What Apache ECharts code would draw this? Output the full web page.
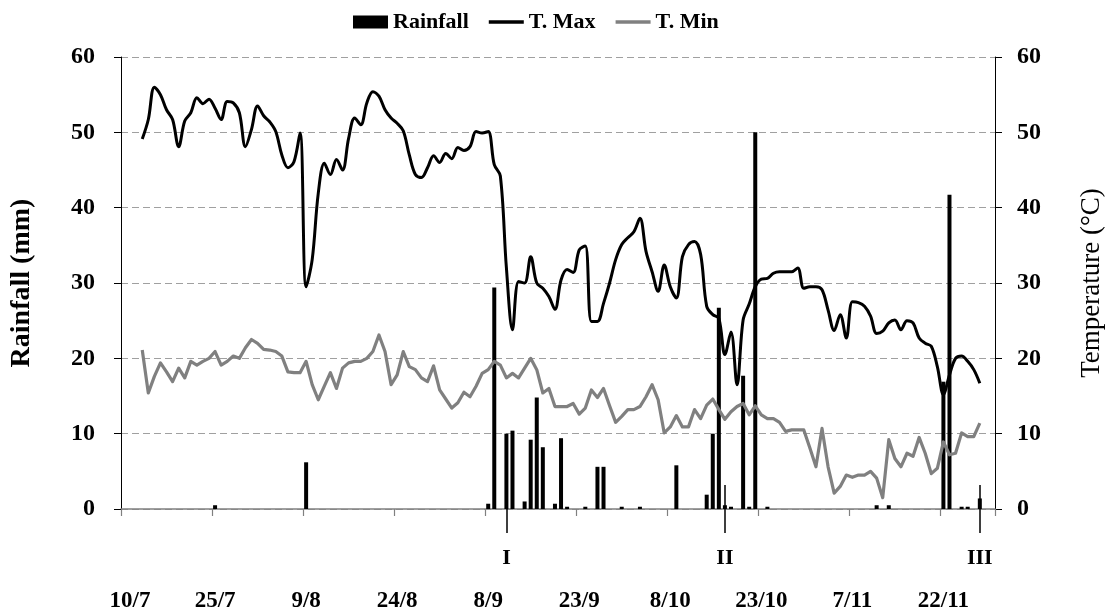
<!DOCTYPE html>
<html>
<head>
<meta charset="utf-8">
<script src="https://cdn.jsdelivr.net/npm/echarts@6.0.0/dist/echarts.min.js"></script>
<style>
html,body{margin:0;padding:0;background:#fff;}
#chart{width:1113px;height:614px;}
</style>
</head>
<body>
<div id="chart"></div>
<script>
// Day index 0 = 10/7. Temperature series start on day 3.
const firstDay = 3;

// Daily maximum temperature (°C), days 3..141
const tMax = [
  49.1, 51.7, 56.0, 55.0, 53.0, 51.7, 48.1, 51.5, 52.6, 54.6,
  53.8, 54.4, 53.2, 51.7, 54.1, 53.9, 52.6, 48.1, 50.4, 53.5,
  52.2, 51.4, 50.1, 47.0, 45.3, 46.1, 49.9, 29.5, 33.1, 41.9,
  45.9, 44.4, 46.4, 45.0, 49.2, 51.9, 51.0, 53.9, 55.4, 54.8,
  53.0, 51.9, 51.2, 50.2, 47.0, 44.4, 44.0, 45.3, 46.9, 46.0,
  47.2, 46.5, 48.0, 47.6, 48.1, 50.1, 49.9, 50.1, 45.7, 44.2,
  32.0, 23.8, 30.2, 30.0, 33.5, 30.0, 29.3, 28.2, 26.5, 30.4,
  31.8, 31.4, 34.4, 34.9, 24.9, 24.9, 27.3, 30.0, 33.1, 35.1,
  36.0, 36.8, 38.6, 34.2, 31.5, 28.9, 32.4, 29.5, 28.0, 33.5,
  35.1, 35.5, 33.8, 26.9, 25.8, 25.3, 20.5, 23.5, 16.5, 25.1,
  27.2, 29.5, 30.5, 30.6, 31.3, 31.5, 31.5, 31.5, 32.0, 29.3,
  29.5, 29.5, 29.1, 26.4, 23.7, 25.8, 22.7, 27.5, 27.4, 26.9,
  25.6, 23.3, 23.6, 24.7, 25.1, 23.8, 25.0, 24.7, 22.7, 22.0,
  21.6, 18.9, 15.2, 17.8, 20.0, 20.3, 19.6, 18.5, 16.7
];

// Daily minimum temperature (°C), days 3..141
const tMin = [
  21.1, 15.4, 17.6, 19.4, 18.2, 16.9, 18.7, 17.4, 19.6, 19.1,
  19.6, 20.0, 20.9, 19.1, 19.6, 20.3, 20.0, 21.4, 22.5, 22.0,
  21.2, 21.1, 20.9, 20.3, 18.2, 18.1, 18.1, 19.6, 16.5, 14.5,
  16.3, 18.1, 16.0, 18.7, 19.4, 19.6, 19.6, 20.0, 20.9, 23.1,
  20.9, 16.5, 17.8, 20.9, 18.9, 18.5, 17.4, 16.9, 19.0, 15.8,
  14.6, 13.4, 14.1, 15.5, 14.9, 16.3, 18.0, 18.5, 19.6, 19.1,
  17.4, 18.0, 17.4, 18.7, 20.0, 18.5, 15.4, 16.0, 13.6, 13.6,
  13.6, 14.0, 12.6, 13.4, 15.8, 14.8, 16.0, 13.7, 11.5, 12.3,
  13.2, 13.2, 13.6, 14.9, 16.5, 14.5, 10.1, 10.9, 12.4, 10.9,
  10.9, 13.2, 12.0, 13.8, 14.6, 13.2, 11.9, 12.9, 13.6, 14.0,
  12.5, 13.7, 12.5, 12.0, 12.0, 11.5, 10.3, 10.5, 10.5, 10.5,
  8.1, 5.6, 10.7, 5.6, 2.1, 3.0, 4.5, 4.2, 4.5, 4.5,
  5.0, 4.1, 1.5, 9.2, 6.7, 5.6, 7.4, 7.0, 9.5, 7.4,
  4.7, 5.4, 8.9, 7.2, 7.4, 10.1, 9.6, 9.6, 11.4
];

// Rainfall events: day index and amount (mm)
const rainDays = [15, 30, 60, 61, 63, 64, 66, 67, 68, 69, 71, 72, 73, 76, 78, 79, 82, 85, 91,
                  96, 97, 98, 99, 100, 102, 103, 104, 106, 124, 126, 135, 136, 138, 139, 141];
const rainMm   = [0.5, 6.2, 0.7, 29.4, 10.0, 10.4, 1.0, 9.2, 14.8, 8.2, 0.7, 9.4, 0.3, 0.3, 5.6, 5.6, 0.3, 0.3, 5.8,
                  1.9, 10.0, 26.7, 0.5, 0.3, 17.7, 0.3, 50.0, 0.3, 0.5, 0.5, 16.9, 41.7, 0.3, 0.3, 1.4];

// Axis labels
const dateLabels = ['10/7', '25/7', '9/8', '24/8', '8/9', '23/9', '8/10', '23/10', '7/11', '22/11'];
const dateStep = 15;
const stageLabels = ['I', 'II', 'III'];
const stageDays = [63, 99, 141];

const slot = d => d + 0.5;               // centre of a day's slot
const FONT = '"Liberation Serif", "Times New Roman", serif';
const txt = { fontFamily: FONT, fontWeight: 'bold', fontSize: 24, color: '#000' };

const datePos = dateLabels.map((_, i) => slot(i * dateStep));
const stagePos = stageDays.map(slot);
const near = (arr, v) => arr.findIndex(a => Math.abs(a - v) < 1e-6);
const lineIcon = 'path://M0,0H40V4H0Z';

const chart = echarts.init(document.getElementById('chart'), null, { renderer: 'canvas' });
chart.setOption({
  animation: false,
  backgroundColor: '#fff',
  legend: {
    left: 348, top: 6,
    itemWidth: 35, itemHeight: 13, itemGap: 20,
    textStyle: Object.assign({}, txt, { fontSize: 22 }),
    data: [
      { name: 'Rainfall', icon: 'rect' },
      { name: 'T. Max', icon: lineIcon },
      { name: 'T. Min', icon: lineIcon }
    ]
  },
  grid: { left: 108, right: 97, top: 57, bottom: 105 },
  xAxis: [
    {
      type: 'value', min: 0, max: 144, interval: dateStep,
      axisLine: { onZero: false, lineStyle: { color: '#808080', width: 1.5 } },
      axisTick: { length: 7, lineStyle: { color: '#808080', width: 1.2 } },
      axisLabel: { show: false }, splitLine: { show: false }
    },
    {
      type: 'value', min: 0, max: 144, position: 'bottom',
      axisLine: { show: false, onZero: false }, axisTick: { show: false }, splitLine: { show: false },
      axisLabel: Object.assign({}, txt, {
        fontSize: 23, margin: 81, customValues: datePos,
        formatter: v => {
          const i = near(datePos, v);
          if (i < 0) return '';
          return i === 0 ? '{first|' + dateLabels[i] + '}' : dateLabels[i];
        },
        rich: { first: { fontFamily: FONT, fontWeight: 'bold', fontSize: 23, color: '#000', padding: [0, 0, 0, 12] } }
      })
    },
    {
      type: 'value', min: 0, max: 144, position: 'bottom',
      axisLine: { show: false, onZero: false }, splitLine: { show: false },
      axisTick: { length: 24, customValues: stagePos, lineStyle: { color: '#000', width: 1.5 } },
      axisLabel: Object.assign({}, txt, {
        fontSize: 22, margin: 38, customValues: stagePos,
        formatter: v => stageLabels[near(stagePos, v)] || ''
      })
    },
    {
      type: 'value', min: 0, max: 144, position: 'bottom',
      axisLine: { show: false, onZero: false }, splitLine: { show: false },
      axisTick: { inside: true, length: 24, customValues: stagePos, lineStyle: { color: '#000', width: 1.5 } },
      axisLabel: { show: false }
    }
  ],
  yAxis: [
    {
      type: 'value', min: 0, max: 60, interval: 10, position: 'left',
      name: 'Rainfall (mm)', nameLocation: 'middle', nameGap: 85, nameRotate: 90,
      nameTextStyle: Object.assign({}, txt, { fontSize: 28 }),
      axisLine: { show: true, onZero: false, lineStyle: { color: '#000', width: 1 } },
      axisTick: { show: true, length: 7, lineStyle: { color: '#000' } },
      axisLabel: Object.assign({}, txt, { margin: 26 }),
      splitLine: { show: true, lineStyle: { color: '#a0a0a0', type: [7, 4], width: 1 } }
    },
    {
      type: 'value', min: 0, max: 60, interval: 10, position: 'right',
      name: 'Temperature (°C)', nameLocation: 'middle', nameGap: 83, nameRotate: 90,
      nameTextStyle: Object.assign({}, txt, { fontSize: 27, fontWeight: 'normal' }),
      axisLine: { show: true, onZero: false, lineStyle: { color: '#000', width: 1 } },
      axisTick: { show: true, length: 7, lineStyle: { color: '#000' } },
      axisLabel: Object.assign({}, txt, { margin: 22 }),
      splitLine: { show: false }
    }
  ],
  series: [
    {
      name: 'Rainfall', type: 'bar', xAxisIndex: 0, yAxisIndex: 0,
      barWidth: 4, itemStyle: { color: '#000' },
      data: rainDays.map((d, i) => [slot(d), rainMm[i]])
    },
    {
      name: 'T. Max', type: 'line', xAxisIndex: 0, yAxisIndex: 1,
      smooth: 0.35, symbol: 'none',
      lineStyle: { color: '#000', width: 3, join: 'round' }, itemStyle: { color: '#000' },
      data: tMax.map((v, i) => [slot(firstDay + i), v])
    },
    {
      name: 'T. Min', type: 'line', xAxisIndex: 0, yAxisIndex: 1,
      smooth: false, symbol: 'none',
      lineStyle: { color: '#808080', width: 3.2, join: 'round' }, itemStyle: { color: '#808080' },
      data: tMin.map((v, i) => [slot(firstDay + i), v])
    }
  ]
});
</script>
</body>
</html>
